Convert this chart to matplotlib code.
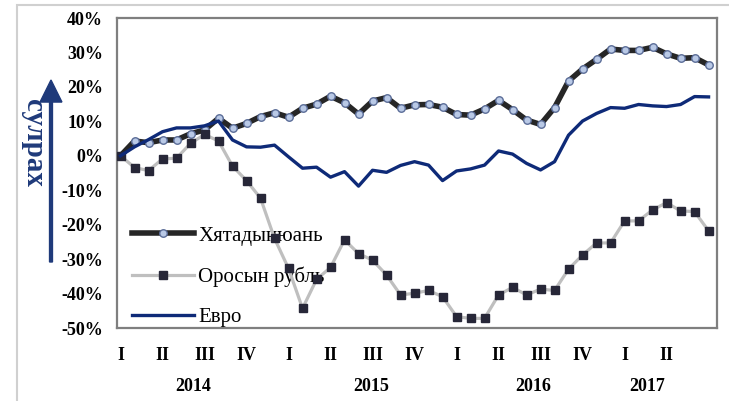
import numpy as np
import matplotlib
matplotlib.use("Agg")
import matplotlib.pyplot as plt
from matplotlib.patches import Rectangle, FancyArrow

# monthly values, Jan 2014 .. Jul 2017 (% change)
yuan = [0, 4.3, 3.8, 4.6, 4.6, 6.4, 7.5, 10.9, 8.0, 9.4, 11.4, 12.5, 11.2, 13.8, 15.0,
        17.3, 15.4, 12.1, 15.9, 16.9, 13.8, 14.8, 14.9, 14.1, 12.0, 11.8, 13.6, 16.1,
        13.4, 10.4, 9.1, 14.0, 21.7, 25.2, 28.0, 31.0, 30.6, 30.6, 31.5, 29.6, 28.3,
        28.5, 26.4]
ruble = [0, -3.4, -4.3, -0.9, -0.7, 3.6, 6.2, 4.3, -3.0, -7.2, -12.3, -24.0, -32.7,
         -44.3, -35.9, -32.4, -24.4, -28.4, -30.3, -34.6, -40.4, -39.9, -39.1, -40.9,
         -46.7, -47.2, -47.2, -40.4, -38.2, -40.4, -38.7, -39.1, -32.9, -28.8, -25.3,
         -25.3, -18.9, -18.9, -15.7, -13.6, -16.0, -16.2, -21.8]
euro = [0, 2.6, 4.7, 7.0, 8.1, 8.1, 8.7, 10.1, 4.6, 2.6, 2.5, 3.1, -0.3, -3.6, -3.3,
        -6.2, -4.6, -8.8, -4.2, -4.8, -2.8, -1.7, -2.7, -7.2, -4.4, -3.8, -2.7, 1.4,
        0.5, -2.2, -4.1, -1.7, 6.0, 10.1, 12.3, 14.0, 13.8, 14.9, 14.5, 14.3, 14.9,
        17.2, 17.1]
labels = ["Хятадынюань", "Оросын рубль", "Евро"]
quarters = ["I", "II", "III", "IV"] * 3 + ["I", "II"]
years = ["2014", "2015", "2016", "2017"]
year_pos = [5.2, 17.9, 29.5, 37.6]

x = np.arange(len(yuan))
serif = "Liberation Serif"

fig = plt.figure(figsize=(7.29, 4.01), dpi=100)
ax = fig.add_axes([0.1605, 0.182, 0.823, 0.773])

ax.plot(x, yuan, color="#262626", lw=4.0, marker="o", ms=5.4,
        mfc="#b9c9e6", mec="#5b6d98", mew=1.0, label=labels[0], zorder=3)
ax.plot(x, ruble, color="#bfbfbf", lw=2.3, marker="s", ms=5.8,
        mfc="#272738", mec="#272738", label=labels[1], zorder=3)
ax.plot(x, euro, color="#0e2a78", lw=2.4, label=labels[2], zorder=4,
        solid_joinstyle="round")

ax.set_xlim(-0.25, 42.6)
ax.set_ylim(-50, 40)
ax.set_yticks(np.arange(-50, 41, 10))
ax.set_yticklabels([f"{v}%" for v in range(-50, 41, 10)])
ax.set_xticks(np.arange(0, 40, 3))
ax.set_xticklabels(quarters)
ax.tick_params(length=0)
ax.tick_params(axis="y", pad=10)
ax.tick_params(axis="x", pad=14)
for t in ax.get_xticklabels() + ax.get_yticklabels():
    t.set_fontfamily(serif)
    t.set_fontweight("bold")
    t.set_fontsize(13)

for s in ax.spines.values():
    s.set_color("#7f7f7f")
    s.set_linewidth(1.6)

for yr, p in zip(years, year_pos):
    ax.text(p, -0.19, yr, transform=ax.get_xaxis_transform(), ha="center", va="center",
            fontfamily=serif, fontweight="bold", fontsize=13)

leg = ax.legend(loc="lower left", bbox_to_anchor=(0.0, -0.045), frameon=False,
                prop={"family": serif, "size": 15}, handlelength=3.0,
                handletextpad=0.2, labelspacing=1.0, borderaxespad=0.3)
leg.set_zorder(2)

# y axis caption with arrow
fig.text(33 / 729, 1 - 143 / 401, "сулрах", rotation=270, ha="center", va="center",
         color="#1f3a7a", fontfamily=serif, fontweight="bold", fontsize=21)
fig.patches.append(FancyArrow(51 / 729, 1 - 262 / 401, 0, (262 - 80) / 401,
                              width=0.004, head_width=0.03, head_length=0.055,
                              length_includes_head=True, color="#1f3a7a",
                              transform=fig.transFigure, figure=fig))

# outer light frame
fig.patches.append(Rectangle((17 / 729, -0.05), 1.1, 1 - 5 / 401 + 0.05, fill=False,
                             ec="#d0d0d0", lw=1.5, transform=fig.transFigure, figure=fig))

fig.savefig("out.png", dpi=100)
